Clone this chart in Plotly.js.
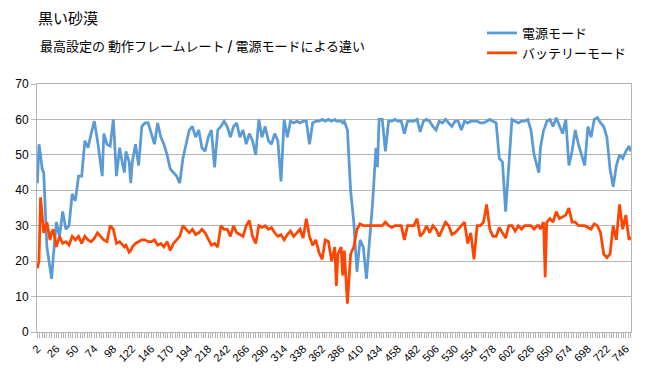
<!DOCTYPE html>
<html><head><meta charset="utf-8">
<script src="https://cdn.plot.ly/plotly-3.0.1.min.js"></script>
<style>html,body{margin:0;padding:0;background:#fff}#chart{width:645px;height:375px}</style>
</head><body><div id="chart"></div>
<script>
// frame number (category)
const frames = [2,4,6,8,10,14,18,20,22,26,30,34,38,42,46,50,54,58,62,66,70,74,78,82,84,86,90,94,98,102,106,110,112,114,118,120,122,126,
130,134,138,142,146,150,154,158,162,166,170,174,178,182,186,190,194,198,202,206,210,214,218,222,226,230,234,238,242,246,250,
254,258,262,266,270,274,278,282,286,290,294,298,302,306,310,314,318,322,326,330,334,338,342,346,350,354,358,362,366,370,374,378,380,
382,386,388,390,394,398,402,406,410,414,418,422,426,430,432,434,438,442,446,450,454,458,462,466,470,474,478,482,486,490,494,498,502,
506,510,514,518,522,526,530,534,538,542,546,550,554,558,562,566,570,574,578,582,586,590,594,598,602,606,610,614,618,622,626,630,
634,636,638,642,644,646,650,654,658,662,666,670,674,678,682,686,690,694,698,702,706,710,714,718,722,726,730,734,738,742,746,750,752];

const powerFps = [42,53,50,46,45,24,18,15,21,31,27,34,29,30,39,37,44,44,54,52,56,59.5,54,48,44,56,53,52.5,60,44,52,47,45,51,48,42,48,53,
47,58,59,59,56,53,59,55,53,50,46,45,44,42,49,53,57,58,55,57,52,51,55,57,46.5,57,58,59.5,58,55,58,
59,55,57,53,56,54,50,60,55,58,54,53,56,54,42.5,60,55,59.5,59,59.5,59,59.5,59.5,53,59,59.5,59.5,60,59.5,60,59.5,60,59.5,
59.5,59.5,59,59.5,57,40,31,17,26,24,15,27,37,52,46.5,60,60,51,59.5,59.5,60,59.5,59.5,56,59.5,59.5,59.5,60,56.5,59.5,60,59.5,58,
57,59.5,59,60,59,58,59.5,59.5,57,59.5,59,59.5,59.5,59.5,59,59,59.5,60,59.5,59,49,48,34,46,60,59.5,59,59.5,59.5,60,57,50,
47,45,52,57,58,59.5,60,58,60.5,58,56,60,47,51,57,53,50,47,58,55,60,60.5,59,58,55,46,41,47,50,49,51,52.5,51];

const batteryFps = [18,20,38,32,28,31,26,28,29,24,27,25,25.5,24.5,27,26,27,25,27,26,25.5,26.5,28,27,26.5,26,25.5,30,29,25,25.5,24.5,24,24.5,22.5,23,24,25,
25.5,26,26,25.5,25.5,26,24.5,25,24,25.5,23,25,26,27,30,29,28,29,27.5,28,29,28,26,24.5,25,24,30,29,29,27,30,
28,27.5,27,30,31.5,27,25,30,29.5,30,29,29.5,28,27,27.5,26,27.5,28.5,27,28,29,26.5,32,27,24.5,26,22.5,20.5,26,25.5,20,24,13,
22,24,16,23,8,22,24,29,30.5,30,30,30,30,30,30,30,30,31,30,29.5,30,30,30,26,30,30,30,32,27,28,30,28,30,
29,27,29,31,30,27.5,28,29,30,31,25,28,20.5,30,30,31,36,29,27,27,29.5,28,26.5,30,30,28.5,30,29,30,30,30,29,
30,30,29,31,15.5,31,32,31,34,32,32.5,33,35,31,31,30,30,30,29.5,29,30.5,30,28,22,21,22,30,26,36,29,33,26,27];

const tickVals = [2,26,50,74,98,122,146,170,194,218,242,266,290,314,338,362,386,410,434,458,482,506,530,554,578,602,626,650,674,698,722,746];
const tickText = tickVals.map(String);

const jp = '"Noto Sans CJK JP", sans-serif';
const gridCol = '#b4b4b4';

const traces = [
  {x: frames, y: powerFps, name: '電源モード', type: 'scatter', mode: 'lines',
   line: {color: '#5B9BD5', width: 2.75, shape: 'linear'}},
  {x: frames, y: batteryFps, name: 'バッテリーモード', type: 'scatter', mode: 'lines',
   line: {color: '#FF4500', width: 2.75, shape: 'linear'}}
];

const layout = {
  width: 645, height: 375,
  margin: {l: 37, r: 14, t: 84, b: 43, autoexpand: false},
  paper_bgcolor: '#fff', plot_bgcolor: '#fff',
  font: {family: jp, size: 12, color: '#000'},
  title: {text: '黒い砂漠', xref: 'container', yref: 'container', x: 38/645, y: 1 - 13/375,
          xanchor: 'left', yanchor: 'top', font: {family: jp, size: 15, color: '#000'}},
  annotations: [{text: '最高設定の 動作フレームレート <b>/</b> 電源モードによる違い', xref: 'paper', yref: 'paper',
    x: (38 - 37) / 594, y: 1 + (84 - 45) / 248, xanchor: 'left', yanchor: 'middle', showarrow: false,
    font: {family: jp, size: 13, color: '#000'}}],
  showlegend: true,
  legend: {xref: 'container', yref: 'container', x: 482/645, y: 1 - 18/375, xanchor: 'left', yanchor: 'top',
           font: {family: jp, size: 13, color: '#000'}, bgcolor: 'rgba(0,0,0,0)', itemwidth: 30, tracegroupgap: 0},
  xaxis: {range: [1.5, 752.5], tickmode: 'array', tickvals: tickVals, ticktext: tickText, tickangle: -45,
          ticks: 'outside', ticklen: 5, tickcolor: gridCol, showgrid: false, zeroline: false,
          showline: true, linecolor: gridCol, linewidth: 1, mirror: true,
          tickfont: {family: '"Liberation Sans", Arial, sans-serif', size: 11, color: '#000'},
          minor: {tickmode: 'linear', tick0: 2, dtick: 3, ticks: 'outside', ticklen: 5, tickcolor: gridCol, showgrid: false}},
  yaxis: {range: [0, 70], dtick: 10, tick0: 0, showgrid: true, gridcolor: gridCol, gridwidth: 1, zeroline: false,
          showline: true, linecolor: gridCol, linewidth: 1, mirror: true, ticks: 'outside', ticklen: 5, tickcolor: gridCol,
          tickfont: {family: '"Liberation Sans", Arial, sans-serif', size: 12, color: '#000'}}
};

Plotly.newPlot('chart', traces, layout, {displayModeBar: false, staticPlot: true});
</script></body></html>
